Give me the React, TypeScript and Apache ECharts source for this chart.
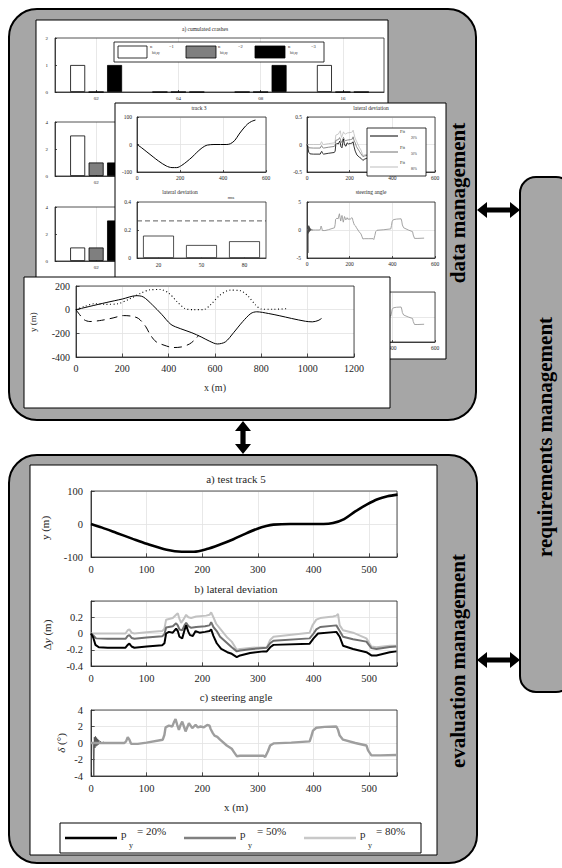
import React, { useEffect, useRef } from "react";
import * as echarts from "echarts";

const SERIF = "Liberation Serif, Times New Roman, serif";
const INK = "#262626";
const PANEL_GREY = "#a6a6a6";

// ---------- data: cumulated crashes ----------
const crashCategories = ["02", "04", "08", "16"];
const crashTopN1 = [1, 0, 0, 1];
const crashTopN2 = [0, 0, 0, 0];
const crashTopN3 = [1, 0, 1, 0];
const crashMidN1 = [3, null, null, null];
const crashMidN2 = [1, null, null, null];
const crashMidN3 = [1, null, null, null];
const crashLowN1 = [1, null, null, null];
const crashLowN2 = [1, null, null, null];
const crashLowN3 = [3, null, null, null];

// ---------- data: rms lateral deviation ----------
const rmsCategories = ["20", "50", "80"];
const rmsValues = [0.16, 0.093, 0.12];
const rmsLimit = 0.265;

// ---------- data: test track (x, y) ----------
const track5 = [
  [0, 0], [20, -11], [46, -27], [75, -45], [100, -60], [136, -78], [163, -84], [185, -84],
  [208, -76], [232, -62], [256, -46], [278, -29], [298, -15], [315, -6], [328, -2], [358, 0],
  [418, 0], [435, 3], [455, 15], [475, 38], [497, 60], [515, 75], [533, 84], [551, 89],
];

// ---------- data: track layouts x-y ----------
const xySolid = [
  [0, 0], [60, 28], [130, 60], [200, 90], [260, 118], [290, 108], [330, 40], [370, -40],
  [410, -125], [450, -160], [500, -195], [540, -230], [575, -265], [610, -290], [645, -272],
  [680, -195], [720, -100], [755, -32], [780, -18], [830, -32], [880, -52], [930, -74],
  [990, -98], [1020, -103], [1045, -92], [1060, -74],
];
const xyDotted = [
  [0, 0], [40, 30], [80, 50], [130, 45], [180, 50], [230, 90], [280, 140], [320, 168],
  [365, 170], [400, 140], [435, 70], [470, 10], [510, 0], [550, 0], [580, 40], [620, 120],
  [665, 165], [710, 160], [745, 110], [775, 40], [800, 5], [850, 3], [910, 8],
];
const xyDashed = [
  [0, 0], [15, -40], [35, -85], [60, -100], [110, -90], [160, -70], [205, -50], [240, -55],
  [270, -75], [300, -140], [320, -210], [345, -270], [380, -300], [420, -320], [455, -315],
  [490, -290], [515, -250], [530, -215],
];

// ---------- data: lateral deviation (x, dy) ----------
const latDev20 = [
  [0, 0], [4, -0.05], [8, -0.14], [14, -0.17], [30, -0.175], [62, -0.175], [66, -0.14],
  [69, -0.125], [73, -0.16], [78, -0.175], [100, -0.16], [128, -0.145], [132, -0.12],
  [135, 0.0], [140, 0.02], [147, 0.01], [153, 0.06], [156, 0.03], [159, -0.04], [164, -0.06],
  [168, 0.04], [171, 0.1], [175, 0.02], [178, -0.02], [183, -0.03], [188, 0.03], [195, 0.01],
  [205, 0.02], [213, 0.03], [216, 0.05], [220, -0.03], [226, -0.12], [234, -0.19],
  [245, -0.23], [253, -0.25], [262, -0.29], [268, -0.27], [286, -0.24], [310, -0.22],
  [316, -0.22], [322, -0.17], [328, -0.14], [393, -0.125], [400, -0.06], [408, 0.0],
  [441, 0.02], [447, -0.04], [453, -0.15], [471, -0.19], [495, -0.23], [504, -0.27],
  [513, -0.27], [537, -0.23], [549, -0.22],
];
const latDev50 = [
  [0, 0], [5, -0.03], [9, -0.06], [30, -0.065], [62, -0.065], [66, -0.03], [69, -0.02],
  [73, -0.055], [78, -0.065], [100, -0.05], [128, -0.035], [132, -0.01], [135, 0.075],
  [147, 0.09], [153, 0.125], [156, 0.1], [159, 0.05], [164, 0.04], [168, 0.1], [171, 0.13],
  [175, 0.09], [180, 0.07], [189, 0.08], [205, 0.09], [213, 0.1], [216, 0.14], [220, 0.08],
  [226, 0.03], [232, -0.04], [245, -0.12], [253, -0.17], [262, -0.22], [268, -0.21],
  [290, -0.19], [316, -0.175], [322, -0.12], [328, -0.09], [393, -0.06], [400, 0.0],
  [405, 0.05], [412, 0.08], [441, 0.1], [447, 0.03], [453, -0.04], [471, -0.07],
  [495, -0.1], [504, -0.18], [513, -0.19], [537, -0.165], [549, -0.16],
];
const latDev80 = [
  [0, 0], [10, 0.0], [30, 0.0], [62, 0.0], [66, 0.04], [69, 0.05], [73, 0.01], [78, 0.0],
  [100, 0.015], [128, 0.03], [132, 0.06], [135, 0.17], [147, 0.19], [153, 0.23], [156, 0.25],
  [159, 0.18], [162, 0.13], [166, 0.17], [171, 0.23], [175, 0.2], [180, 0.19], [189, 0.21],
  [207, 0.22], [213, 0.23], [216, 0.26], [220, 0.2], [225, 0.12], [232, 0.06], [245, -0.05],
  [253, -0.1], [262, -0.2], [268, -0.19], [290, -0.175], [316, -0.17], [322, -0.08],
  [328, -0.04], [393, 0.01], [398, 0.1], [405, 0.17], [412, 0.19], [435, 0.21], [441, 0.22],
  [444, 0.24], [447, 0.1], [453, 0.04], [471, 0.01], [495, -0.06], [504, -0.16],
  [513, -0.17], [537, -0.15], [549, -0.15],
];

// ---------- data: steering angle (x, delta) ----------
const steering = [
  [0, 0], [20, 0], [40, 0], [60, 0], [63, 0.2], [66, 0.7], [69, 0.4], [72, -0.1], [84, -0.1],
  [100, 0.05], [129, 0.4], [132, 1.0], [134, 1.9], [140, 2.1], [146, 2.0], [149, 2.5],
  [152, 2.9], [155, 2.2], [158, 1.6], [161, 2.2], [164, 2.6], [167, 2.0], [170, 1.4],
  [173, 1.9], [176, 2.4], [179, 2.1], [182, 1.8], [185, 2.0], [188, 2.2], [192, 1.9],
  [197, 2.0], [203, 1.9], [209, 2.2], [213, 2.1], [215, 1.7], [219, 1.2], [222, 0.9],
  [227, 0.75], [232, 0.4], [244, -0.3], [253, -0.7], [257, -1.1], [262, -1.6], [268, -1.55],
  [290, -1.55], [310, -1.55], [313, -1.7], [318, -1.0], [322, -0.3], [328, -0.05],
  [360, 0.05], [393, 0.2], [396, 0.8], [399, 1.5], [405, 1.85], [420, 1.95], [441, 2.0],
  [444, 1.6], [447, 0.9], [453, 0.4], [475, 0.0], [495, -0.3], [498, -0.9], [504, -1.5],
  [520, -1.5], [549, -1.45],
];
const steeringStart = [
  [0, 0], [4, 0], [5, -4.1], [6, 0.7], [7, -0.6], [8, 0.8], [9, -0.4], [10, 0.65], [11, -0.3],
  [12, 0.5], [13, -0.2], [14, 0.35], [15, -0.1], [17, 0.2], [19, -0.05], [22, 0.1], [26, 0],
];

// ---------- helpers ----------
function gridBox(left: number, top: number, width: number, height: number, z: number) {
  return {
    left, top, width, height, z: z + 1.5, show: true, containLabel: false,
    backgroundColor: "transparent", borderColor: INK, borderWidth: 0.8,
  };
}

function fmtNum(v: number) {
  return String(Math.round(v * 1000) / 1000);
}

function valAxis(gridIndex: number, min: number, max: number, interval: number, fs: number, z: number, o: any = {}) {
  return {
    type: "value", gridIndex, min, max, interval, z: z + 1, show: o.show !== false,
    axisLine: { show: true, onZero: false, lineStyle: { color: INK, width: 0.8 } },
    axisTick: { show: true, inside: true, length: Math.max(2, fs * 0.35), lineStyle: { color: INK, width: 0.8 } },
    axisLabel: {
      fontSize: fs, fontFamily: SERIF, color: INK, margin: o.margin ?? fs * 0.5,
      formatter: (v: number) => (o.hide && o.hide.some((h: number) => Math.abs(h - v) < 1e-9) ? "" : fmtNum(v)),
    },
    splitLine: { show: o.split !== false, lineStyle: { color: "#e2e2e2", width: 0.8 } },
  };
}

function catAxis(gridIndex: number, data: string[], fs: number, z: number, split = true) {
  return {
    type: "category", gridIndex, data, z: z + 1,
    axisLine: { show: true, onZero: false, lineStyle: { color: INK, width: 0.8 } },
    axisTick: { show: true, inside: true, alignWithLabel: true, length: 2, lineStyle: { color: INK, width: 0.8 } },
    axisLabel: { fontSize: fs, fontFamily: SERIF, color: INK, margin: fs * 0.8, interval: 0 },
    splitLine: { show: split, alignWithLabel: true, interval: 0, lineStyle: { color: "#e2e2e2", width: 0.8 } },
  };
}

function lineSeries(xi: number, yi: number, data: number[][], color: string, width: number, z: number, o: any = {}) {
  return {
    type: "line", xAxisIndex: xi, yAxisIndex: yi, data, z: z + 2,
    showSymbol: false, symbol: "none", clip: true, smooth: o.smooth ?? false,
    lineStyle: { color, width, type: o.type ?? "solid" },
    silent: true,
  };
}

function barSeries(idx: number, data: (number | null)[], fill: string, z: number) {
  return {
    type: "bar", xAxisIndex: idx, yAxisIndex: idx, data, z: z + 2,
    barWidth: 15, barGap: "23%",
    itemStyle: { color: fill, borderColor: "#000", borderWidth: 0.8 },
    silent: true,
  };
}

function txt(text: string, x: number, y: number, fs: number, z: number, o: any = {}) {
  const align = o.align || "center";
  const va = o.va || "middle";
  return {
    type: "text", x, y, z, rotation: o.rot || 0, silent: true,
    style: {
      text, fontSize: fs, fontFamily: SERIF, fontWeight: o.bold ? "bold" : "normal",
      fontStyle: o.italic ? "italic" : "normal", fill: o.fill || INK,
      align, verticalAlign: va, textAlign: align, textVerticalAlign: va, rich: o.rich,
    },
  };
}

function rect(x: number, y: number, w: number, h: number, z: number, fill: string, stroke: string, lw: number, r = 0) {
  return { type: "rect", z, silent: true, shape: { x, y, width: w, height: h, r }, style: { fill, stroke, lineWidth: lw } };
}

function seg(x1: number, y1: number, x2: number, y2: number, z: number, stroke: string, lw: number) {
  return { type: "line", z, silent: true, shape: { x1, y1, x2, y2 }, style: { stroke, lineWidth: lw } };
}

function hArrow(x1: number, x2: number, y: number, z: number) {
  const h = 10, w = 8, t = 2.6;
  return {
    type: "polygon", z, silent: true,
    shape: { points: [[x1, y], [x1 + h, y - w], [x1 + h, y - t], [x2 - h, y - t], [x2 - h, y - w], [x2, y], [x2 - h, y + w], [x2 - h, y + t], [x1 + h, y + t], [x1 + h, y + w]] },
    style: { fill: "#000" },
  };
}

function vArrow(x: number, y1: number, y2: number, z: number) {
  const h = 10, w = 8, t = 2.6;
  return {
    type: "polygon", z, silent: true,
    shape: { points: [[x, y1], [x + w, y1 + h], [x + t, y1 + h], [x + t, y2 - h], [x + w, y2 - h], [x, y2], [x - w, y2 - h], [x - t, y2 - h], [x - t, y1 + h], [x - w, y1 + h]] },
    style: { fill: "#000" },
  };
}

function buildOption() {
  const ZT = 2; // top panel
  const ZM = 11; // middle panel
  const ZX = 21; // x-y panel
  const ZE = 2; // evaluation panel

  const grids = [
    gridBox(55, 38, 329, 54, ZT),
    gridBox(55, 122, 329, 54, ZT),
    gridBox(55, 207, 329, 54, ZT),
    gridBox(137, 117, 129, 55, ZM),
    gridBox(137, 202, 129, 56, ZM),
    gridBox(307, 117, 128, 55, ZM),
    gridBox(307, 202, 128, 56, ZM),
    gridBox(307, 292, 128, 50, ZM),
    gridBox(76, 286, 278, 71, ZX),
    gridBox(91, 491, 306, 66, ZE),
    gridBox(91, 601, 306, 65, ZE),
    gridBox(91, 710, 306, 66, ZE),
  ];

  const xAxes = [
    catAxis(0, crashCategories, 5, ZT),
    catAxis(1, crashCategories, 5, ZT),
    catAxis(2, crashCategories, 5, ZT),
    valAxis(3, 0, 600, 200, 5.5, ZM, { margin: 3 }),
    catAxis(4, rmsCategories, 5.5, ZM, false),
    valAxis(5, 0, 600, 200, 5.5, ZM, { margin: 3 }),
    valAxis(6, 0, 600, 200, 5.5, ZM, { margin: 3 }),
    valAxis(7, 0, 600, 200, 5.5, ZM, { margin: 3 }),
    valAxis(8, 0, 1200, 200, 10, ZX, { margin: 6 }),
    valAxis(9, 0, 550, 100, 10.5, ZE, { margin: 7, hide: [550] }),
    valAxis(10, 0, 550, 100, 10.5, ZE, { margin: 7, hide: [550] }),
    valAxis(11, 0, 550, 100, 10.5, ZE, { margin: 7, hide: [550] }),
    // hidden helper axis spanning the full width of the rms grid (for the limit line)
    valAxis(4, 0, 1, 1, 5.5, ZM, { show: false, split: false }),
  ];

  const yAxes = [
    valAxis(0, 0, 2, 1, 5, ZT, { split: false, margin: 7 }),
    valAxis(1, 0, 4, 2, 5, ZT, { split: false, margin: 7 }),
    valAxis(2, 0, 4, 2, 5, ZT, { split: false, margin: 7 }),
    valAxis(3, -100, 100, 100, 5.5, ZM, { margin: 5 }),
    valAxis(4, 0, 0.4, 0.2, 5.5, ZM, { split: false, margin: 6 }),
    valAxis(5, -0.5, 0.5, 0.5, 5.5, ZM, { margin: 5 }),
    valAxis(6, -5, 5, 5, 5.5, ZM, { margin: 6 }),
    valAxis(7, -5, 5, 5, 5.5, ZM, { margin: 6 }),
    valAxis(8, -400, 200, 200, 10, ZX, { margin: 6 }),
    valAxis(9, -100, 100, 100, 10.5, ZE, { margin: 8 }),
    valAxis(10, -0.4, 0.4, 0.2, 10.5, ZE, { margin: 8, hide: [0.4] }),
    valAxis(11, -4, 4, 2, 10.5, ZE, { margin: 8 }),
  ];

  const rmsLimitLine = [[0, rmsLimit], [1, rmsLimit]];

  const series: any[] = [
    barSeries(0, crashTopN1, "#ffffff", ZT),
    barSeries(0, crashTopN2, "#7f7f7f", ZT),
    barSeries(0, crashTopN3, "#000000", ZT),
    barSeries(1, crashMidN1, "#ffffff", ZT),
    barSeries(1, crashMidN2, "#7f7f7f", ZT),
    barSeries(1, crashMidN3, "#000000", ZT),
    barSeries(2, crashLowN1, "#ffffff", ZT),
    barSeries(2, crashLowN2, "#7f7f7f", ZT),
    barSeries(2, crashLowN3, "#000000", ZT),
    lineSeries(3, 3, track5, "#000", 1, ZM, { smooth: 0.3 }),
    {
      type: "bar", xAxisIndex: 4, yAxisIndex: 4, data: rmsValues, z: ZM + 2, barWidth: "72%",
      itemStyle: { color: "#fff", borderColor: INK, borderWidth: 0.8 }, silent: true,
    },
    lineSeries(12, 4, rmsLimitLine, "#333", 0.8, ZM, { type: [5, 3] }),
    lineSeries(5, 5, latDev80, "#bdbdbd", 0.8, ZM),
    lineSeries(5, 5, latDev50, "#707070", 0.8, ZM),
    lineSeries(5, 5, latDev20, "#000", 0.8, ZM),
    lineSeries(6, 6, steering, "#9a9a9a", 0.9, ZM),
    lineSeries(6, 6, steeringStart, "#444", 0.6, ZM),
    lineSeries(7, 7, steering, "#9a9a9a", 0.9, ZM),
    lineSeries(8, 8, xySolid, "#000", 1, ZX, { smooth: 0.3 }),
    lineSeries(8, 8, xyDotted, "#000", 1.1, ZX, { smooth: 0.3, type: [1, 2.5] }),
    lineSeries(8, 8, xyDashed, "#000", 1, ZX, { smooth: 0.3, type: [8, 5] }),
    lineSeries(9, 9, track5, "#000", 2.6, ZE, { smooth: 0.3 }),
    lineSeries(10, 10, latDev80, "#c2c2c2", 2, ZE),
    lineSeries(10, 10, latDev50, "#707070", 2, ZE),
    lineSeries(10, 10, latDev20, "#000", 2, ZE),
    lineSeries(11, 11, steeringStart, "#555", 1, ZE),
    lineSeries(11, 11, steering, "#9e9e9e", 2.4, ZE),
  ];

  const el: any[] = [
    // background boxes
    rect(9, 9, 467, 411, 0, PANEL_GREY, "#000", 2, 28),
    rect(9, 455, 468, 408, 0, PANEL_GREY, "#000", 2, 28),
    rect(520, 177, 52, 515, 0, PANEL_GREY, "#000", 2, 16),
    hArrow(477, 520, 210, 0),
    hArrow(477, 520, 660, 0),
    vArrow(243, 421, 454, 0),
    txt("data management", 458, 203, 21, 0, { bold: true, rot: Math.PI / 2, fill: "#000" }),
    txt("evaluation management", 458, 661, 21, 0, { bold: true, rot: Math.PI / 2, fill: "#000" }),
    txt("requirements management", 545, 437, 21, 0, { bold: true, rot: Math.PI / 2, fill: "#000" }),

    // top panel (cumulated crashes)
    rect(36, 20, 352, 262, 1, "#fff", "#000", 1),
    txt("a) cumulated crashes", 205, 29, 5.5, ZT + 3),
    rect(114, 42, 210, 20, ZT + 3, "#fff", "#000", 0.8),
    rect(118, 46, 29, 12, ZT + 3.1, "#fff", "#000", 0.8),
    rect(186, 46, 30, 12, ZT + 3.1, "#7f7f7f", "#000", 0.8),
    rect(255, 46, 30, 12, ZT + 3.1, "#000", "#000", 0.8),
    txt("n", 150, 46, 4.5, ZT + 3.1, { align: "left" }),
    txt("hit,ay", 152, 53, 3.5, ZT + 3.1, { align: "left" }),
    txt("=1", 169, 46, 4.5, ZT + 3.1, { align: "left" }),
    txt("n", 218, 46, 4.5, ZT + 3.1, { align: "left" }),
    txt("hit,ay", 220, 53, 3.5, ZT + 3.1, { align: "left" }),
    txt("=2", 238, 46, 4.5, ZT + 3.1, { align: "left" }),
    txt("n", 288, 46, 4.5, ZT + 3.1, { align: "left" }),
    txt("hit,ay", 290, 53, 3.5, ZT + 3.1, { align: "left" }),
    txt("=3", 311, 46, 4.5, ZT + 3.1, { align: "left" }),

    // middle panel
    rect(115, 103, 331, 256, 10, "#fff", "#000", 1),
    txt("track 3", 199, 108, 5.5, ZM + 3),
    txt("lateral deviation", 180, 192, 5.5, ZM + 3),
    txt("rms", 231, 197, 4.5, ZM + 3),
    txt("lateral deviation", 371, 108, 5.5, ZM + 3),
    txt("steering angle", 371, 192, 5.5, ZM + 3),
    rect(367, 128, 59, 48, ZM + 3, "#fff", "#000", 0.8),
    seg(370, 136, 398, 136, ZM + 3.1, "#000", 1),
    seg(370, 152, 398, 152, ZM + 3.1, "#707070", 1),
    seg(370, 167, 398, 167, ZM + 3.1, "#bdbdbd", 1),
    txt("Fit", 400, 131, 4.5, ZM + 3.1, { align: "left" }),
    txt("20%", 411, 138, 3.2, ZM + 3.1, { align: "left" }),
    txt("Fit", 400, 147, 4.5, ZM + 3.1, { align: "left" }),
    txt("50%", 411, 154, 3.2, ZM + 3.1, { align: "left" }),
    txt("Fit", 400, 162, 4.5, ZM + 3.1, { align: "left" }),
    txt("80%", 411, 169, 3.2, ZM + 3.1, { align: "left" }),

    // x-y panel
    rect(24, 277, 366, 131, 20, "#fff", "#000", 1),
    txt("y (m)", 33, 322, 9, ZX + 3, { rot: Math.PI / 2 }),
    txt("x (m)", 215, 387, 10, ZX + 3),

    // evaluation panel
    rect(30, 465, 407, 390, 1, "#fff", "#000", 1),
    txt("a) test track 5", 236, 479, 11, ZE + 3),
    txt("b) lateral deviation", 236, 589, 11, ZE + 3),
    txt("c) steering angle", 236, 697, 11, ZE + 3),
    txt("y (m)", 45, 528, 11, ZE + 3, { rot: Math.PI / 2 }),
    txt("{d|Δ}{y|y} (m)", 47, 635, 11, ZE + 3, {
      rot: Math.PI / 2,
      rich: {
        d: { fontSize: 11, fontFamily: SERIF, fill: INK },
        y: { fontSize: 11, fontFamily: SERIF, fontStyle: "italic", fill: INK },
      },
    }),
    txt("{d|δ} (°)", 61, 743, 11, ZE + 3, {
      rot: Math.PI / 2,
      rich: { d: { fontSize: 11, fontFamily: SERIF, fontStyle: "italic", fill: INK } },
    }),
    txt("x (m)", 236, 807, 11, ZE + 3),
    rect(60, 823, 361, 30, ZE + 3, "#fff", "#000", 1),
    seg(65, 838, 117, 838, ZE + 3.1, "#000", 2.4),
    seg(184, 838, 236, 838, ZE + 3.1, "#808080", 2.4),
    seg(304, 838, 356, 838, ZE + 3.1, "#c8c8c8", 2.4),
    txt("p", 121, 834, 11, ZE + 3.1, { align: "left" }),
    txt("y", 129, 845, 8, ZE + 3.1, { align: "left" }),
    txt("= 20%", 137, 831, 11, ZE + 3.1, { align: "left" }),
    txt("p", 240, 834, 11, ZE + 3.1, { align: "left" }),
    txt("y", 248, 845, 8, ZE + 3.1, { align: "left" }),
    txt("= 50%", 257, 831, 11, ZE + 3.1, { align: "left" }),
    txt("p", 360, 834, 11, ZE + 3.1, { align: "left" }),
    txt("y", 368, 845, 8, ZE + 3.1, { align: "left" }),
    txt("= 80%", 376, 831, 11, ZE + 3.1, { align: "left" }),
  ];

  return {
    animation: false,
    backgroundColor: "#fff",
    textStyle: { fontFamily: SERIF },
    grid: grids,
    xAxis: xAxes,
    yAxis: yAxes,
    series,
    graphic: { elements: el },
  };
}

export default function App() {
  const ref = useRef<HTMLDivElement>(null);
  useEffect(() => {
    if (!ref.current) return;
    const chart = echarts.init(ref.current, null, { renderer: "svg" });
    chart.setOption(buildOption() as any);
    return () => chart.dispose();
  }, []);
  return (
    <div
      ref={ref}
      style={{ position: "fixed", left: 0, top: 0, width: 562, height: 868, background: "#fff" }}
    />
  );
}
